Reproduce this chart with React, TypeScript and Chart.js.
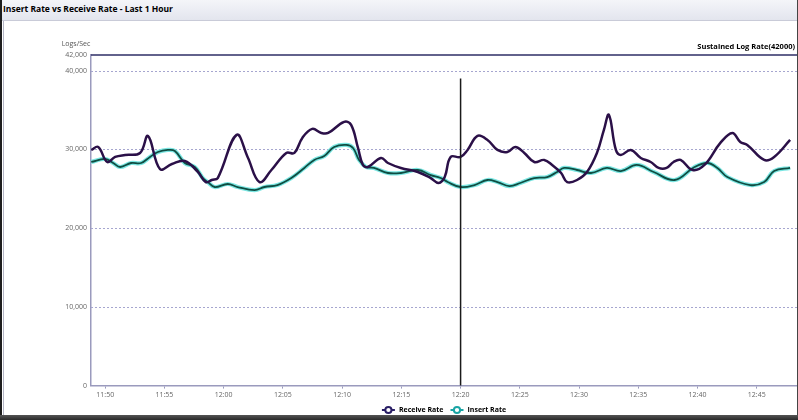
import React, { useEffect, useRef } from "react";
import { Chart, registerables } from "chart.js";
Chart.register(...registerables);

// minutes after 11:50
const receiveTimes = [-1.18, -0.59, 0.17, 0.84, 1.68, 2.94, 3.61, 4.62, 5.63, 6.72, 7.82, 8.49, 8.99, 9.5, 11.09, 12.02, 13.03, 14.03, 15.29, 15.97, 16.64, 17.48, 18.24, 18.82, 20.17, 20.76, 21.34, 21.76, 22.18, 23.28, 23.87, 24.96, 26.39, 27.48, 28.15, 28.66, 29.16, 30.0, 30.59, 31.43, 32.27, 33.11, 33.95, 34.62, 35.38, 36.22, 37.06, 37.73, 38.49, 39.0, 39.83, 40.67, 41.51, 42.1, 42.52, 43.11, 43.53, 44.37, 45.21, 46.05, 46.72, 47.39, 47.98, 48.57, 49.58, 50.59, 51.93, 52.94, 53.61, 54.2, 55.63, 56.47, 57.82];
const receiveValues = [29940, 30320, 28410, 29050, 29300, 29560, 31720, 27520, 28150, 28540, 27140, 25860, 26120, 26370, 31850, 29050, 25860, 27390, 29560, 29560, 31470, 32610, 32100, 32100, 33500, 33120, 30190, 28030, 27770, 28920, 28280, 27650, 27140, 26370, 25740, 26500, 29050, 29050, 29940, 31720, 31210, 29940, 29680, 30320, 29560, 28410, 28670, 28030, 27010, 25860, 26120, 27140, 29560, 32490, 34400, 29940, 29300, 29940, 28920, 28410, 27650, 27650, 28410, 28670, 27390, 28030, 30830, 32100, 30960, 30580, 28670, 29050, 31210];
const insertTimes = [-1.18, 0, 0.67, 1.26, 2.18, 3.03, 3.78, 4.45, 5.29, 5.88, 6.72, 7.56, 8.24, 8.66, 9.24, 10.34, 11.18, 12.61, 13.45, 14.54, 15.71, 16.81, 17.65, 18.49, 19.33, 20.34, 20.92, 21.43, 22.02, 22.69, 23.87, 24.96, 26.39, 27.48, 28.32, 28.91, 30.0, 31.18, 32.27, 33.11, 34.12, 35.04, 36.22, 37.31, 38.15, 38.74, 39.83, 41.01, 42.35, 43.53, 44.87, 46.3, 48.07, 49.75, 50.84, 51.68, 52.52, 54.45, 55.63, 56.47, 57.82];
const insertValues = [28410, 28790, 28280, 27770, 28280, 28280, 29050, 29680, 29940, 29810, 28280, 27770, 26370, 25860, 25230, 25610, 25230, 24840, 25230, 25480, 26370, 27650, 28670, 29180, 30320, 30580, 30190, 28670, 27770, 27650, 27010, 27010, 27390, 26750, 26370, 25860, 25230, 25480, 26120, 25860, 25350, 25740, 26370, 26500, 27140, 27650, 27390, 27010, 27650, 27260, 28030, 27140, 26120, 27770, 28280, 27650, 26500, 25480, 25860, 27260, 27650];

const xTickMinutes = [0, 5, 10, 15, 20, 25, 30, 35, 40, 45, 50, 55];
const xTickLabels = ["11:50", "11:55", "12:00", "12:05", "12:10", "12:15", "12:20", "12:25", "12:30", "12:35", "12:40", "12:45"];
const yTickValues = [0, 10000, 20000, 30000, 40000, 42000];
const gridValues = [10000, 20000, 30000, 40000];
const sustainedRate = 42000;
const markerMinute = 30;
const markerTop = 39000;

const FONT = '"Open Sans", "Noto Sans", sans-serif';

function drawMarker(ctx: CanvasRenderingContext2D, x: number, y: number, color: string) {
  ctx.save();
  ctx.strokeStyle = color;
  ctx.lineWidth = 2;
  ctx.beginPath();
  ctx.moveTo(x, y);
  ctx.lineTo(x + 13, y);
  ctx.stroke();
  ctx.fillStyle = "#ffffff";
  ctx.beginPath();
  ctx.arc(x + 6.5, y, 3.1, 0, Math.PI * 2);
  ctx.fill();
  ctx.stroke();
  ctx.restore();
}

const overlay = {
  id: "overlay",
  beforeDatasetsDraw(chart: any) {
    const { ctx, chartArea, scales } = chart;
    const y = scales.y;
    ctx.save();
    ctx.strokeStyle = "#a6a6cf";
    ctx.lineWidth = 1;
    ctx.setLineDash([2, 2]);
    gridValues.forEach((v) => {
      const py = Math.round(y.getPixelForValue(v)) + 0.5;
      ctx.beginPath();
      ctx.moveTo(chartArea.left, py);
      ctx.lineTo(chartArea.right, py);
      ctx.stroke();
    });
    ctx.setLineDash([]);
    const sy = y.getPixelForValue(sustainedRate);
    ctx.strokeStyle = "#2e2e66";
    ctx.lineWidth = 1.5;
    ctx.beginPath();
    ctx.moveTo(chartArea.left, sy);
    ctx.lineTo(chartArea.right, sy);
    ctx.stroke();
    ctx.fillStyle = "#000";
    ctx.font = "bold 7.5px " + FONT;
    ctx.textAlign = "right";
    ctx.textBaseline = "middle";
    ctx.fillText("Sustained Log Rate(" + sustainedRate + ")", chartArea.right - 2, sy - 8);
    ctx.fillStyle = "#555";
    ctx.font = "7px " + FONT;
    ctx.textAlign = "center";
    ctx.fillText("Logs/Sec", chartArea.left - 15, sy - 11);
    ctx.restore();
  },
  afterDatasetsDraw(chart: any) {
    const { ctx, scales, chartArea } = chart;
    const px = scales.x.getPixelForValue(markerMinute);
    ctx.save();
    ctx.strokeStyle = "#1a1a1a";
    ctx.lineWidth = 1.5;
    ctx.beginPath();
    ctx.moveTo(px, scales.y.getPixelForValue(markerTop));
    ctx.lineTo(px, scales.y.getPixelForValue(0));
    ctx.stroke();

    // legend
    const items = chart.data.datasets
      .filter((d: any) => d.legendColor)
      .map((d: any) => ({ text: d.label, color: d.legendColor }));
    ctx.font = "bold 7px " + FONT;
    ctx.textBaseline = "middle";
    ctx.textAlign = "left";
    const widths = items.map((it: any) => 13 + 4 + ctx.measureText(it.text).width);
    const gap = 7;
    const total = widths.reduce((a: number, b: number) => a + b, 0) + gap * (items.length - 1);
    let lx = (chartArea.left + chartArea.right) / 2 - total / 2;
    const ly = chart.height - 10;
    items.forEach((it: any, i: number) => {
      drawMarker(ctx, lx, ly, it.color);
      ctx.fillStyle = "#000";
      ctx.fillText(it.text, lx + 17, ly);
      lx += widths[i] + gap;
    });
    ctx.restore();
  },
};

export default function App() {
  const ref = useRef<HTMLCanvasElement>(null);
  useEffect(() => {
    const chart = new Chart(ref.current!, {
      type: "line",
      data: {
        datasets: [
          {
            label: "Receive Rate",
            data: receiveTimes.map((t, i) => ({ x: t, y: receiveValues[i] })),
            borderColor: "#2b1048",
            borderWidth: 2.5,
            pointRadius: 0,
            tension: 0.4,
            legendColor: "#2a1f66",
          } as any,
          {
            label: "Insert Rate",
            data: insertTimes.map((t, i) => ({ x: t, y: insertValues[i] })),
            borderColor: "#0f4d42",
            borderWidth: 1.8,
            pointRadius: 0,
            tension: 0.4,
            legendColor: "#1aa5a5",
          } as any,
          {
            label: "Insert Rate (halo)",
            data: insertTimes.map((t, i) => ({ x: t, y: insertValues[i] })),
            borderColor: "#7be6e2",
            borderWidth: 4.2,
            pointRadius: 0,
            tension: 0.4,
          },
        ],
      },
      options: {
        animation: false,
        responsive: false,
        maintainAspectRatio: false,
        layout: { padding: { top: 55, right: 1, bottom: 19, left: 0 } },
        plugins: {
          tooltip: { enabled: false },
          legend: { display: false },
        },
        scales: {
          x: {
            type: "linear",
            min: -1.2,
            max: 58.4,
            afterBuildTicks: (s: any) => {
              s.ticks = xTickMinutes.map((v) => ({ value: v }));
            },
            ticks: {
              autoSkip: false,
              maxRotation: 0,
              padding: 2,
              color: "#666",
              font: { family: FONT, size: 7 },
              callback: (v: any) => {
                const i = xTickMinutes.indexOf(Number(v));
                return i >= 0 ? xTickLabels[i] : "";
              },
            },
            grid: { display: true, drawOnChartArea: false, drawTicks: true, tickLength: 3, color: "#9a9abd" },
            border: { display: true, color: "#9a9abd", width: 1.5 },
          },
          y: {
            min: 0,
            max: 42000,
            afterBuildTicks: (s: any) => {
              s.ticks = yTickValues.map((v) => ({ value: v }));
            },
            afterFit: (s: any) => {
              s.width = 91;
            },
            ticks: {
              autoSkip: false,
              padding: 4,
              color: "#666",
              font: { family: FONT, size: 7 },
              callback: (v: any) => Number(v).toLocaleString("en-US"),
            },
            grid: { display: false, drawTicks: false },
            border: { display: true, color: "#9a9abd", width: 1.5 },
          },
        },
      },
      plugins: [overlay],
    });
    return () => chart.destroy();
  }, []);

  return (
    <div style={{ position: "fixed", left: 0, top: 0, width: 798, height: 420, background: "#fff", overflow: "hidden", fontFamily: FONT }}>
      <div style={{ position: "absolute", left: 0, top: 0, width: 798, height: 20, background: "linear-gradient(#f4f5f9, #e3e5ee)", borderBottom: "1px solid #c9cbd8" }} />
      <div style={{ position: "absolute", left: 3, top: 3, fontSize: 8.5, fontWeight: 700, color: "#000", whiteSpace: "nowrap" }}>
        Insert Rate vs Receive Rate - Last 1 Hour
      </div>
      <div style={{ position: "absolute", left: 3, top: 21, width: 1, height: 394, background: "#b4b6c6" }} />
      <canvas ref={ref} width={798} height={420} style={{ position: "absolute", left: 0, top: 0, width: 798, height: 420 }} />
      <div style={{ position: "absolute", left: 0, top: 0, width: 2, height: 420, background: "#1e1e1e" }} />
      <div style={{ position: "absolute", right: 0, top: 0, width: 1, height: 420, background: "#444" }} />
      <div style={{ position: "absolute", left: 0, top: 415, width: 798, height: 5, background: "linear-gradient(#555, #2a2a2a)" }} />
    </div>
  );
}
